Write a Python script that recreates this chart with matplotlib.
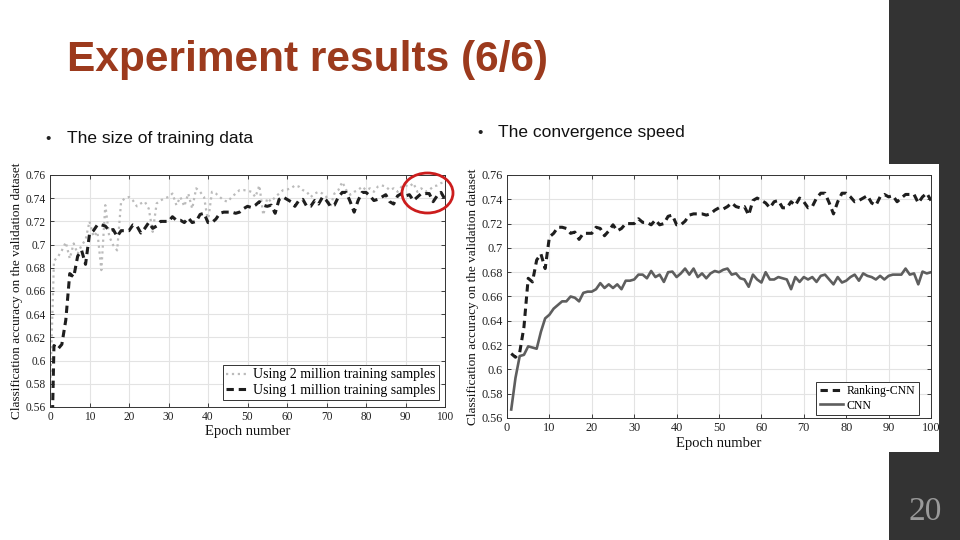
import matplotlib
matplotlib.use("Agg")
import matplotlib.pyplot as plt
from matplotlib.patches import Rectangle, Ellipse

# ---------------- data ----------------
epochs = list(range(1, 101))
epochs_left = list(range(0, 101))

acc_ranking_cnn = [
    0.613, 0.610, 0.614, 0.635, 0.675, 0.672, 0.690, 0.695, 0.683, 0.709,
    0.712, 0.717, 0.717, 0.716, 0.712, 0.713, 0.707, 0.712, 0.712, 0.712,
    0.717, 0.716, 0.710, 0.714, 0.719, 0.714, 0.716, 0.720, 0.720, 0.720,
    0.724, 0.721, 0.721, 0.719, 0.723, 0.719, 0.720, 0.726, 0.727, 0.719,
    0.719, 0.722, 0.727, 0.728, 0.728, 0.728, 0.727, 0.728, 0.731, 0.733,
    0.732, 0.734, 0.737, 0.734, 0.733, 0.734, 0.727, 0.739, 0.741, 0.739,
    0.737, 0.733, 0.738, 0.739, 0.733, 0.733, 0.738, 0.735, 0.741, 0.738,
    0.733, 0.734, 0.741, 0.745, 0.745, 0.737, 0.728, 0.738, 0.745, 0.745,
    0.742, 0.738, 0.739, 0.741, 0.743, 0.737, 0.735, 0.742, 0.744, 0.742,
    0.743, 0.738, 0.741, 0.744, 0.744, 0.744, 0.737, 0.742, 0.745, 0.739,
]

acc_cnn = [
    0.567, 0.593, 0.611, 0.612, 0.619, 0.618, 0.617, 0.631, 0.642, 0.645,
    0.650, 0.653, 0.656, 0.656, 0.660, 0.659, 0.656, 0.663, 0.664, 0.664,
    0.666, 0.671, 0.667, 0.670, 0.667, 0.670, 0.666, 0.673, 0.673, 0.674,
    0.678, 0.678, 0.675, 0.681, 0.676, 0.678, 0.672, 0.680, 0.6805, 0.676,
    0.679, 0.683, 0.678, 0.683, 0.676, 0.679, 0.675, 0.679, 0.681, 0.680,
    0.682, 0.683, 0.678, 0.679, 0.675, 0.674, 0.668, 0.678, 0.674, 0.6715,
    0.680, 0.674, 0.674, 0.676, 0.675, 0.674, 0.666, 0.676, 0.672, 0.676,
    0.674, 0.676, 0.672, 0.677, 0.678, 0.674, 0.670, 0.676, 0.6715, 0.673,
    0.676, 0.678, 0.673, 0.679, 0.677, 0.676, 0.674, 0.677, 0.674, 0.677,
    0.678, 0.678, 0.678, 0.683, 0.678, 0.679, 0.670, 0.6805, 0.679, 0.680,
]

acc_2m = [
    0.570, 0.686,
    0.6895, 0.695, 0.702, 0.688, 0.701, 0.692, 0.6995, 0.704, 0.720,
    0.707, 0.711, 0.678, 0.734, 0.707, 0.6995, 0.695, 0.737, 0.740, 0.741,
    0.738, 0.733, 0.7355, 0.737, 0.731, 0.711, 0.7355, 0.738, 0.740, 0.741,
    0.744, 0.734, 0.741, 0.733, 0.744, 0.731, 0.7485, 0.7455, 0.741, 0.720,
    0.7455, 0.744, 0.741, 0.738, 0.737, 0.741, 0.744, 0.747, 0.747, 0.7465,
    0.7455, 0.741, 0.751, 0.7255, 0.740, 0.737, 0.741, 0.744, 0.747, 0.7475,
    0.7485, 0.751, 0.750, 0.747, 0.7455, 0.741, 0.744, 0.7455, 0.744, 0.741,
    0.733, 0.744, 0.747, 0.754, 0.747, 0.743, 0.7455, 0.747, 0.750, 0.747,
    0.7485, 0.7455, 0.750, 0.751, 0.750, 0.747, 0.7485, 0.7455, 0.750, 0.751,
    0.750, 0.753, 0.7455, 0.7485, 0.7455, 0.747, 0.750, 0.751, 0.753, 0.754,
]

acc_1m = [0.450] + acc_ranking_cnn

x_ticks = list(range(0, 101, 10))
y_ticks = [0.56, 0.58, 0.60, 0.62, 0.64, 0.66, 0.68, 0.70, 0.72, 0.74, 0.76]
y_tick_labels = ["0.56", "0.58", "0.6", "0.62", "0.64", "0.66", "0.68", "0.7",
                 "0.72", "0.74", "0.76"]

title_text = "Experiment results (6/6)"
bullet_left = "The size of training data"
bullet_right = "The convergence speed"
slide_number = "20"
x_label = "Epoch number"
y_label = "Classification accuracy on the validation dataset"

# ---------------- figure ----------------
W, H = 960, 540
fig = plt.figure(figsize=(9.6, 5.4), dpi=100)
fig.patch.set_facecolor("white")

def fx(px):
    return px / W

def fy(py):
    return 1 - py / H

# dark side bar
fig.patches.append(Rectangle((fx(889), 0), fx(W - 889), 1, transform=fig.transFigure,
                             facecolor="#333333", edgecolor="none", zorder=-2))
# white background of right chart image
right_bg = Rectangle((fx(470), fy(452)), fx(939 - 470), (452 - 164) / H,
                     transform=fig.transFigure, facecolor="white",
                     edgecolor="none", zorder=-1)
fig.patches.append(right_bg)

sans = ["Liberation Sans", "DejaVu Sans"]
serif = ["Liberation Serif", "DejaVu Serif"]

fig.text(fx(67), fy(60), title_text, fontsize=30.5, fontweight="bold",
         color="#9C3A1D", family=sans, va="center", ha="left")
fig.text(fx(45), fy(139), "\u2022", fontsize=11, color="#222222", family=sans,
         va="center", ha="left")
fig.text(fx(67), fy(139), bullet_left, fontsize=12.5, color="#111111",
         family=sans, va="center", ha="left")
fig.text(fx(477), fy(133), "\u2022", fontsize=11, color="#222222", family=sans,
         va="center", ha="left")
fig.text(fx(498), fy(133), bullet_right, fontsize=12.5, color="#111111",
         family=sans, va="center", ha="left")
fig.text(fx(925), fy(512), slide_number, fontsize=24, color="#9a9a9a",
         family=serif, va="center", ha="center", fontweight="light")


def style_axes(ax, tick_size, xlab_pad):
    ax.set_xlim(0, 100)
    ax.set_ylim(0.56, 0.76)
    ax.set_xticks(x_ticks)
    ax.set_yticks(y_ticks)
    ax.set_yticklabels(y_tick_labels)
    ax.grid(True, color="#e3e3e3", linewidth=0.8)
    ax.set_axisbelow(True)
    ax.tick_params(direction="in", length=3, width=0.6, top=True, right=True,
                   labelsize=tick_size, colors="#222222", pad=3)
    for lab in ax.get_xticklabels() + ax.get_yticklabels():
        lab.set_family(serif)
    for s in ax.spines.values():
        s.set_color("#333333")
        s.set_linewidth(0.7)
    ax.set_xlabel(x_label, family=serif, fontsize=10.5, labelpad=xlab_pad,
                  color="#111111")
    ax.set_ylabel(y_label, family=serif, fontsize=9.5, labelpad=2,
                  color="#111111")
    ax.set_facecolor("white")


# ---------------- left chart ----------------
ax1 = fig.add_axes([fx(50), fy(407), fx(445 - 50), (407 - 175) / H])
ax1.plot(epochs_left, acc_2m, linestyle=":", color="#bbbbbb", linewidth=1.6,
         label="Using 2 million training samples")
ax1.plot(epochs_left, acc_1m, color="#1e1e1e", linewidth=2.2,
         dashes=(2.4, 1.6), label="Using 1 million training samples")
style_axes(ax1, 8.3, 1)
leg1 = ax1.legend(loc="lower right", bbox_to_anchor=(0.984, 0.03),
                  borderaxespad=0, prop={"family": serif, "size": 10},
                  fancybox=False, framealpha=1, edgecolor="#333333",
                  handlelength=1.6, handletextpad=0.3, labelspacing=0.15,
                  borderpad=0.25)
leg1.get_frame().set_linewidth(0.7)

# red highlight ellipse
fig.patches.append(Ellipse((fx(427.5), fy(193)), fx(51), 40 / H,
                           transform=fig.transFigure, facecolor="none",
                           edgecolor="#cc1d1d", linewidth=2, zorder=10))

# ---------------- right chart ----------------
ax2 = fig.add_axes([fx(507), fy(418), fx(931 - 507), (418 - 175) / H])
ax2.plot(epochs, acc_ranking_cnn, color="#1e1e1e", linewidth=2.2,
         dashes=(2.4, 1.6), label="Ranking-CNN")
ax2.plot(epochs, acc_cnn, color="#5e5e5e", linewidth=1.9, label="CNN")
style_axes(ax2, 8.8, 2)
leg2 = ax2.legend(loc="lower right", bbox_to_anchor=(0.972, 0.012),
                  borderaxespad=0, prop={"family": serif, "size": 8.5},
                  fancybox=False, framealpha=1, edgecolor="#333333",
                  handlelength=2.0, handletextpad=0.3, labelspacing=0.2,
                  borderpad=0.3)
leg2.get_frame().set_linewidth(0.7)
for lab in ax2.get_xticklabels():
    lab.set_clip_path(right_bg)

fig.savefig("out.png", dpi=100, facecolor="white")
